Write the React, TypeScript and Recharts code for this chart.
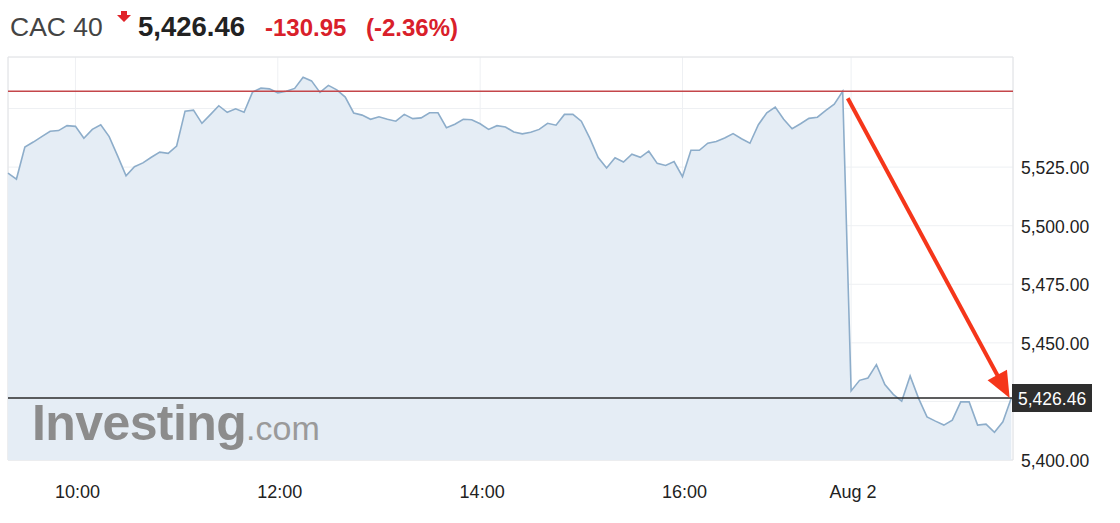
import React from "react";
import {
  AreaChart,
  Area,
  XAxis,
  YAxis,
  CartesianGrid,
  ReferenceLine,
  ReferenceArea,
} from "recharts";

// CAC 40, 5-minute closes, Aug 1 (from 9:20) then Aug 2 open
const day1: number[] = [
  5522.4, 5519.9, 5533.6, 5535.7, 5538.0, 5540.3, 5540.6, 5542.7, 5542.4, 5537.3,
  5541.1, 5543.1, 5538.0, 5529.8, 5521.3, 5525.2, 5526.8, 5529.2, 5531.4, 5530.9,
  5534.0, 5548.9, 5549.3, 5543.7, 5547.4, 5551.2, 5548.4, 5549.9, 5548.4, 5557.0,
  5558.7, 5558.4, 5556.7, 5557.4, 5558.6, 5563.4, 5561.8, 5556.9, 5559.9, 5558.0,
  5554.9, 5548.1, 5547.2, 5545.4, 5546.5, 5545.4, 5544.6, 5547.5, 5545.7, 5546.0,
  5548.2, 5548.2, 5541.8, 5543.3, 5545.4, 5545.2, 5543.5, 5541.1, 5542.7, 5542.1,
  5540.0, 5539.2, 5539.9, 5541.1, 5543.7, 5542.9, 5547.5, 5547.5, 5544.6, 5537.4,
  5529.1, 5524.6, 5529.0, 5527.2, 5530.5, 5529.2, 5531.8, 5526.6, 5525.7, 5527.4,
  5520.9, 5532.2, 5532.2, 5535.2, 5535.9, 5537.4, 5539.3, 5537.1, 5535.2, 5543.1,
  5548.2, 5550.6, 5545.4, 5541.4, 5543.5, 5545.8, 5546.3, 5549.2, 5551.9, 5557.4,
];

const day2: number[] = [
  5429.5, 5434.0, 5435.0, 5440.7, 5432.2, 5428.0, 5425.1, 5435.9, 5426.3, 5418.4,
  5416.6, 5414.9, 5417.0, 5424.8, 5424.8, 5414.9, 5415.3, 5411.8, 5416.3, 5426.46,
];

const prevClose = 5557.41;
const lastPrice = 5426.46;

const xTicks: number[] = [8, 32, 56, 80, 100];
const xTickLabels: string[] = ["10:00", "12:00", "14:00", "16:00", "Aug 2"];

const yTicks: number[] = [5400, 5425, 5450, 5475, 5500, 5525, 5550];
const yLabelled: number[] = [5400, 5450, 5475, 5500, 5525];

const data = [...day1, ...day2].map((v, i) => ({ i, v }));

const FONT = '"Liberation Sans", Arial, Helvetica, sans-serif';

const fmt = (v: number) =>
  v.toLocaleString("en-US", { minimumFractionDigits: 2, maximumFractionDigits: 2 });

function XTick(props: any) {
  const { x, y, payload } = props;
  const idx = xTicks.indexOf(payload.value);
  return (
    <text x={x + 2} y={y + 32} textAnchor="middle" dominantBaseline="central"
      fontSize={18} fill="#222" fontFamily={FONT}>
      {xTickLabels[idx]}
    </text>
  );
}

function YTick(props: any) {
  const { x, y, payload } = props;
  const v = payload.value;
  if (v === lastPrice) {
    return (
      <g>
        <rect x={x - 1} y={y - 14} width={80} height={28} fill="#2e2e2e" />
        <text x={x + 5} y={y + 1} dominantBaseline="central" fontSize={17.5}
          fill="#fff" fontFamily={FONT}>
          {fmt(v)}
        </text>
      </g>
    );
  }
  if (!yLabelled.includes(v)) return <g />;
  return (
    <text x={x + 8} y={y + 1} dominantBaseline="central" fontSize={17.5}
      fill="#222" fontFamily={FONT}>
      {fmt(v)}
    </text>
  );
}

function ArrowShape(props: any) {
  const { x1, y1, x2, y2 } = props;
  if (x1 == null) return <g />;
  const dx = x2 - x1;
  const dy = y2 - y1;
  const len = Math.sqrt(dx * dx + dy * dy);
  const ux = dx / len;
  const uy = dy / len;
  const head = 26;
  const half = 11;
  const bx = x2 - ux * head;
  const by = y2 - uy * head;
  const pts = [
    `${x2},${y2}`,
    `${bx - uy * half},${by + ux * half}`,
    `${bx + uy * half},${by - ux * half}`,
  ].join(" ");
  return (
    <g>
      <line x1={x1} y1={y1} x2={bx + ux * 2} y2={by + uy * 2} stroke="#f5361a" strokeWidth={4} />
      <polygon points={pts} fill="#f5361a" />
    </g>
  );
}

export default function App() {
  return (
    <div style={{ position: "absolute", left: 0, top: 0, width: 1120, height: 523, background: "#fff", fontFamily: FONT }}>
      {/* header */}
      <div style={{ position: "absolute", left: 10, top: 12, fontSize: 26.5, color: "#444", lineHeight: "30px" }}>
        CAC 40
      </div>
      <svg style={{ position: "absolute", left: 117, top: 11 }} width={14} height={14}>
        <polygon points="4,0 10,0 10,4 14,4 7,11 0,4 4,4" fill="#e0242a" />
      </svg>
      <div style={{ position: "absolute", left: 138, top: 11, fontSize: 27.5, fontWeight: 700, color: "#222", lineHeight: "32px" }}>
        5,426.46
      </div>
      <div style={{ position: "absolute", left: 265, top: 14, fontSize: 24, fontWeight: 700, color: "#d9202a", lineHeight: "28px" }}>
        -130.95
      </div>
      <div style={{ position: "absolute", left: 366, top: 14, fontSize: 24, fontWeight: 700, color: "#d9202a", lineHeight: "28px" }}>
        (-2.36%)
      </div>

      <div style={{ position: "absolute", left: 0, top: 0 }}>
        <AreaChart width={1120} height={523} data={data}
          margin={{ top: 57, right: 7, bottom: 23, left: 8 }}>
          <CartesianGrid stroke="#eef0f3" strokeWidth={1} />
          <XAxis dataKey="i" type="number" domain={[0, 119.2]} ticks={xTicks}
            axisLine={false} tickLine={false} tickSize={0} tickMargin={0}
            height={40} tick={<XTick />} interval={0} />
          <YAxis orientation="right" type="number" domain={[5400, 5572]}
            ticks={[...yTicks, lastPrice]} axisLine={false} tickLine={false}
            tickSize={0} tickMargin={0} width={100} tick={<YTick />} interval={0} />
          <ReferenceArea x1={0} x2={119.2} y1={5400} y2={5572} fill="none"
            stroke="#e2e4e6" strokeWidth={1} ifOverflow="visible" />
          <Area type="linear" dataKey="v" stroke="#8dadca" strokeWidth={1.6}
            fill="#e5edf5" fillOpacity={1} baseValue={5400}
            isAnimationActive={false} dot={false} activeDot={false} />
          <ReferenceLine y={prevClose} stroke="#c4464a" strokeWidth={1.5} />
          <ReferenceLine y={lastPrice} stroke="#2a2a2a" strokeWidth={1.5} />
          <ReferenceLine
            segment={[{ x: 99.6, y: 5554.4 }, { x: 118.8, y: 5426.5 }]}
            shape={<ArrowShape />} ifOverflow="visible" />
        </AreaChart>
      </div>

      {/* watermark */}
      <div style={{ position: "absolute", left: 32, top: 394, whiteSpace: "nowrap", pointerEvents: "none" }}>
        <span style={{ fontSize: 50, fontWeight: 700, color: "#8c8c8c", letterSpacing: -0.6 }}>Investing</span>
        <span style={{ fontSize: 34, color: "#9a9a9a" }}>.com</span>
      </div>
    </div>
  );
}
